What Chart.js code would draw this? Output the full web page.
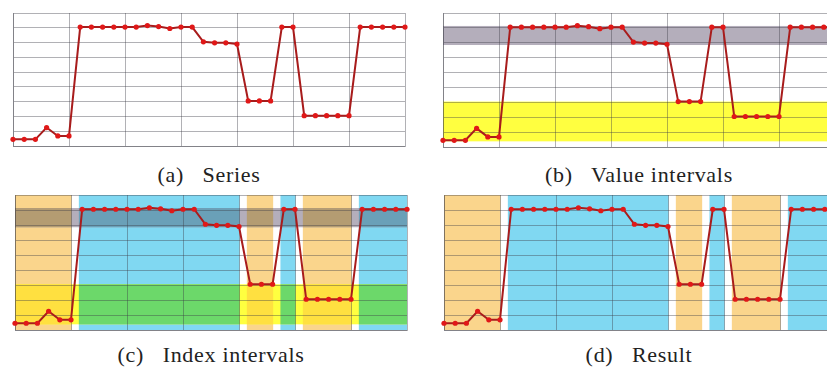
<!doctype html>
<html>
<head>
<meta charset="utf-8">
<title>Series / intervals</title>
<script src="https://cdn.jsdelivr.net/npm/chart.js@4.4.0/dist/chart.umd.min.js"></script>
<style>
  html, body { margin: 0; padding: 0; background: #fff; overflow: hidden; }
  body { width: 827px; height: 369px; position: relative; }
  canvas { position: absolute; }
  .cap { position: absolute; width: 400px; text-align: center; font-family: "Liberation Serif", serif;
         font-size: 22px; line-height: 22px; letter-spacing: 0.7px; color: #222; white-space: pre; }
</style>
</head>
<body>
<canvas id="a" width="404" height="145" style="left:7px;top:7px"></canvas>
<canvas id="b" width="404" height="146" style="left:437px;top:7px"></canvas>
<canvas id="c" width="404" height="147" style="left:9px;top:189px"></canvas>
<canvas id="d" width="404" height="147" style="left:438px;top:189px"></canvas>
<div class="cap" style="left:9px;top:164px">(a)   Series</div>
<div class="cap" style="left:439px;top:164px">(b)   Value intervals</div>
<div class="cap" style="left:11px;top:344px">(c)   Index intervals</div>
<div class="cap" style="left:439px;top:344px">(d)   Result</div>
<script>
// series value at each index 0..35
var series = [0.45,0.45,0.45,1.25,0.68,0.68,
  8.05,8.05,8.05,8.05,8.05,8.05,8.15,8.08,7.95,8.05,8.05,
  7.05,6.98,6.98,6.9,
  3.05,3.05,3.05,
  8.05,8.05,
  2.05,2.05,2.05,2.05,2.05,
  8.05,8.05,8.05,8.05,8.05];

// value intervals (horizontal bands)
var valueFrom = [6.85, 0.38];
var valueTo = [8.13, 3.05];
var valueColors = ['#b4aebb', '#ffff40'];

// index intervals (vertical bands), kind 0 = orange, 1 = blue
var indexFrom = [0, 6, 21, 24, 26, 31];
var indexTo = [5, 20, 23, 25, 30, 35];
var indexKind = [0, 1, 0, 1, 0, 1];
var indexPalette = ['#fad58c', '#80d8f2'];

// colour where a value band crosses an index band (c): [band][kind]
var mixColors = [['#b49c72', '#6aa0b8'], ['#ffe040', '#6cd86a']];

var bands = {
  id: 'bands',
  beforeDraw: function(chart, args, o) {
    var ctx = chart.ctx, a = chart.chartArea, x = chart.scales.x, y = chart.scales.y;
    var w = a.right - a.left, h = a.bottom - a.top;
    ctx.save();
    ctx.beginPath(); ctx.rect(a.left, a.top, w, h); ctx.clip();
    var xs = indexFrom.map(function(f, i) {
      return [x.getPixelForValue(f - 0.3), x.getPixelForValue(indexTo[i] + 0.05)];
    });
    if (o.index) {
      xs.forEach(function(p, i) {
        ctx.fillStyle = indexPalette[indexKind[i]];
        ctx.fillRect(p[0], a.top, p[1] - p[0], h);
      });
    }
    if (o.value) {
      for (var j = 0; j < valueFrom.length; j++) {
        var y0 = y.getPixelForValue(valueTo[j]), y1 = y.getPixelForValue(valueFrom[j]);
        ctx.fillStyle = valueColors[j];
        ctx.fillRect(a.left, y0, w, y1 - y0);
        if (o.index) {
          xs.forEach(function(p, i) {
            ctx.fillStyle = mixColors[j][indexKind[i]];
            ctx.fillRect(p[0], y0, p[1] - p[0], y1 - y0);
          });
        }
      }
    }
    ctx.restore();
  }
};

function make(id, showIndex, showValue) {
  new Chart(document.getElementById(id), {
    type: 'line',
    data: {
      datasets: [{
        data: series.map(function(v, i) { return {x: i, y: v}; }),
        borderColor: '#a81c1c',
        borderWidth: 2,
        pointRadius: 2.6,
        pointBackgroundColor: '#e01818',
        pointBorderWidth: 0,
        tension: 0,
        clip: false
      }]
    },
    options: {
      responsive: false,
      animation: false,
      layout: { padding: 6 },
      plugins: { legend: { display: false }, tooltip: { enabled: false }, bands: { index: showIndex, value: showValue } },
      scales: {
        x: { type: 'linear', min: 0, max: 35,
             ticks: { display: false, stepSize: 5 },
             grid: { color: 'rgba(60,60,70,0.4)', drawTicks: false },
             border: { color: 'rgba(60,60,70,0.4)' } },
        y: { min: 0, max: 9,
             ticks: { display: false, stepSize: 1 },
             grid: { color: 'rgba(60,60,70,0.4)', drawTicks: false },
             border: { color: 'rgba(60,60,70,0.4)' } }
      }
    },
    plugins: [bands]
  });
}

make('a', false, false);
make('b', false, true);
make('c', true, true);
make('d', true, false);
</script>
</body>
</html>
